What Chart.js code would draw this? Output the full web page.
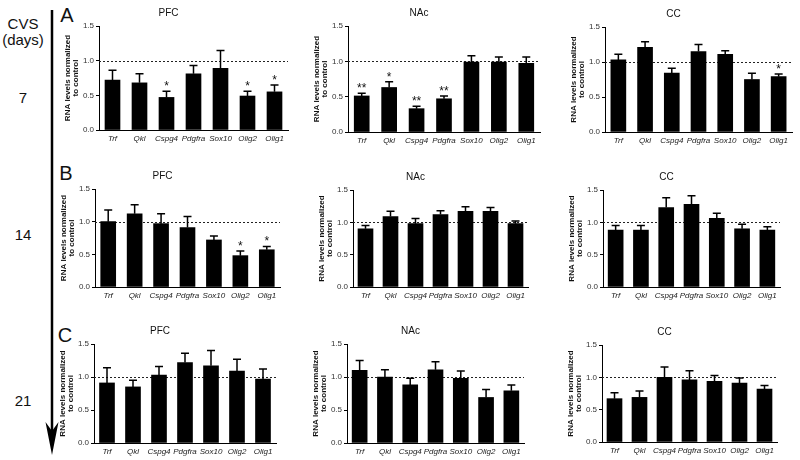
<!DOCTYPE html>
<html>
<head>
<meta charset="utf-8">
<script src="https://cdn.jsdelivr.net/npm/chart.js@4.4.0/dist/chart.umd.min.js"></script>
<style>
  body { margin: 0; background: #fff; }
  #fig { position: relative; width: 800px; height: 460px; overflow: hidden;
         font-family: 'Liberation Sans', Arial, sans-serif; color: #111; }
  #fig canvas { position: absolute; }
  .lbl { position: absolute; transform: translate(-50%, -50%); white-space: nowrap; line-height: 1; }
  svg { position: absolute; left: 0; top: 0; }
</style>
</head>
<body>
<div id="fig">
  <svg width="800" height="460">
    <line x1="52" y1="10" x2="52" y2="432" stroke="#000" stroke-width="2.5"/>
    <path d="M52 455 L45.5 422 L52 431 L58.5 422 Z" fill="#000"/>
  </svg>
  <div class="lbl" style="left:23px;top:23px;font-size:15px">CVS</div>
  <div class="lbl" style="left:23px;top:39px;font-size:15px">(days)</div>
  <div class="lbl" style="left:23px;top:97px;font-size:15px">7</div>
  <div class="lbl" style="left:23px;top:234px;font-size:15px">14</div>
  <div class="lbl" style="left:23px;top:400px;font-size:15px">21</div>
  <div class="lbl" style="left:67px;top:15px;font-size:20px">A</div>
  <div class="lbl" style="left:66px;top:173px;font-size:20px">B</div>
  <div class="lbl" style="left:65px;top:335px;font-size:20px">C</div>
</div>
<script>
const GENES = ['Trf', 'Qkl', 'Cspg4', 'Pdgfra', 'Sox10', 'Olig2', 'Olig1'];
const Y_TICKS = [0, 0.5, 1.0, 1.5];

// --- 7 days CVS ---
const D7_PFC = [0.72, 0.68, 0.47, 0.81, 0.89, 0.49, 0.55];
const D7_PFC_SEM = [0.14, 0.13, 0.09, 0.12, 0.255, 0.07, 0.10];
const D7_PFC_SIG = ['', '', '*', '', '', '*', '*'];
const D7_NAC = [0.51, 0.63, 0.33, 0.47, 0.99, 0.99, 0.97];
const D7_NAC_SEM = [0.04, 0.08, 0.035, 0.04, 0.09, 0.07, 0.09];
const D7_NAC_SIG = ['**', '*', '**', '**', '', '', ''];
const D7_CC = [1.03, 1.21, 0.84, 1.15, 1.11, 0.75, 0.79];
const D7_CC_SEM = [0.08, 0.08, 0.07, 0.10, 0.05, 0.09, 0.04];
const D7_CC_SIG = ['', '', '', '', '', '', '*'];

// --- 14 days CVS ---
const D14_PFC = [1.00, 1.12, 0.97, 0.91, 0.72, 0.48, 0.57];
const D14_PFC_SEM = [0.18, 0.14, 0.15, 0.17, 0.06, 0.07, 0.05];
const D14_PFC_SIG = ['', '', '', '', '', '*', '*'];
const D14_NAC = [0.90, 1.09, 0.98, 1.12, 1.17, 1.17, 0.98];
const D14_NAC_SEM = [0.05, 0.08, 0.08, 0.06, 0.07, 0.06, 0.04];
const D14_NAC_SIG = ['', '', '', '', '', '', ''];
const D14_CC = [0.88, 0.88, 1.23, 1.28, 1.06, 0.90, 0.88];
const D14_CC_SEM = [0.07, 0.07, 0.15, 0.13, 0.08, 0.07, 0.05];
const D14_CC_SIG = ['', '', '', '', '', '', ''];

// --- 21 days CVS ---
const D21_PFC = [0.91, 0.85, 1.03, 1.22, 1.17, 1.09, 0.97];
const D21_PFC_SEM = [0.23, 0.10, 0.13, 0.14, 0.23, 0.18, 0.15];
const D21_PFC_SIG = ['', '', '', '', '', '', ''];
const D21_NAC = [1.10, 1.00, 0.88, 1.11, 0.98, 0.69, 0.79];
const D21_NAC_SEM = [0.15, 0.11, 0.10, 0.12, 0.11, 0.12, 0.09];
const D21_NAC_SIG = ['', '', '', '', '', '', ''];
const D21_CC = [0.67, 0.69, 1.00, 0.96, 0.94, 0.91, 0.82];
const D21_CC_SEM = [0.09, 0.10, 0.16, 0.14, 0.09, 0.08, 0.055];
const D21_CC_SIG = ['', '', '', '', '', '', ''];

const FONT = "'Liberation Sans', Arial, sans-serif";

// plot area boxes: left, right, top (1.5), bottom (0.0)
const panels = [
  { title: 'PFC', mean: D7_PFC, sem: D7_PFC_SEM, sig: D7_PFC_SIG, box: [99, 288, 26, 130] },
  { title: 'NAc', mean: D7_NAC, sem: D7_NAC_SEM, sig: D7_NAC_SIG, box: [348, 540, 26, 132] },
  { title: 'CC', mean: D7_CC, sem: D7_CC_SEM, sig: D7_CC_SIG, box: [605, 792, 27, 132] },
  { title: 'PFC', mean: D14_PFC, sem: D14_PFC_SEM, sig: D14_PFC_SIG, box: [95, 280, 189, 287] },
  { title: 'NAc', mean: D14_NAC, sem: D14_NAC_SEM, sig: D14_NAC_SIG, box: [353, 528, 190, 287] },
  { title: 'CC', mean: D14_CC, sem: D14_CC_SEM, sig: D14_CC_SIG, box: [603, 780, 190, 287] },
  { title: 'PFC', mean: D21_PFC, sem: D21_PFC_SEM, sig: D21_PFC_SIG, box: [94, 276, 344, 443] },
  { title: 'NAc', mean: D21_NAC, sem: D21_NAC_SEM, sig: D21_NAC_SIG, box: [347, 524, 344, 443] },
  { title: 'CC', mean: D21_CC, sem: D21_CC_SEM, sig: D21_CC_SIG, box: [602, 777, 345, 442] },
];

// dotted control line, SEM whiskers and significance stars
const errorBars = {
  id: 'errorBars',
  beforeDatasetsDraw(chart) {
    const { ctx, chartArea, scales: { y } } = chart;
    const py = Math.round(y.getPixelForValue(1)) + 0.5;
    ctx.save();
    ctx.strokeStyle = '#222';
    ctx.lineWidth = 1;
    ctx.setLineDash([2, 2]);
    ctx.beginPath();
    ctx.moveTo(chartArea.left, py);
    ctx.lineTo(chartArea.right, py);
    ctx.stroke();
    ctx.restore();
  },
  afterDatasetsDraw(chart, args, opts) {
    const { ctx, scales: { y } } = chart;
    const means = chart.data.datasets[0].data;
    ctx.save();
    ctx.strokeStyle = '#000';
    ctx.fillStyle = '#111';
    ctx.lineWidth = 1.5;
    ctx.font = '12px ' + FONT;
    ctx.textAlign = 'center';
    ctx.textBaseline = 'alphabetic';
    chart.getDatasetMeta(0).data.forEach((bar, i) => {
      const top = y.getPixelForValue(means[i] + opts.sem[i]);
      ctx.beginPath();
      ctx.moveTo(bar.x, y.getPixelForValue(means[i]));
      ctx.lineTo(bar.x, top);
      ctx.moveTo(bar.x - 4, top);
      ctx.lineTo(bar.x + 4, top);
      ctx.stroke();
      if (opts.sig[i]) ctx.fillText(opts.sig[i], bar.x, top - 1);
    });
    ctx.restore();
  },
};

function renderPanel(p) {
  const [l, r, t, b] = p.box;
  const canvas = document.createElement('canvas');
  canvas.width = (r - l) + 54;
  canvas.height = (b - t) + 40;
  canvas.style.left = (l - 50) + 'px';
  canvas.style.top = (t - 22) + 'px';
  document.getElementById('fig').appendChild(canvas);

  new Chart(canvas.getContext('2d'), {
    type: 'bar',
    data: {
      labels: GENES,
      datasets: [{ data: p.mean, backgroundColor: '#000', barThickness: 15 }],
    },
    options: {
      responsive: false,
      animation: false,
      layout: { padding: { right: 4 } },
      plugins: {
        legend: { display: false },
        tooltip: { enabled: false },
        title: {
          display: true, text: p.title, color: '#111',
          font: { size: 10, weight: 'normal', family: FONT },
          padding: { top: 3, bottom: 7 },
        },
        errorBars: { sem: p.sem, sig: p.sig },
      },
      scales: {
        x: {
          grid: { display: false, drawTicks: false },
          border: { color: '#000', width: 1 },
          ticks: { color: '#222', padding: 4, maxRotation: 0, autoSkip: false,
                   font: { size: 8, style: 'italic', family: FONT } },
          afterFit: s => { s.height = 18; },
        },
        y: {
          min: 0, max: 1.5,
          afterBuildTicks: s => { s.ticks = Y_TICKS.map(v => ({ value: v })); },
          ticks: { color: '#333', padding: 2, font: { size: 8, family: FONT },
                   callback: v => v.toFixed(1) },
          grid: { drawOnChartArea: false, tickLength: 3, color: '#000' },
          border: { color: '#000', width: 1 },
          title: {
            display: true, text: ['RNA levels normalized', 'to control'], color: '#111',
            font: { size: 8, weight: 'bold', lineHeight: 1, family: FONT },
            padding: { top: 15, bottom: 0 },
          },
          afterFit: s => { s.width = 50; },
        },
      },
    },
    plugins: [errorBars],
  });
}

panels.forEach(renderPanel);
</script>
</body>
</html>
